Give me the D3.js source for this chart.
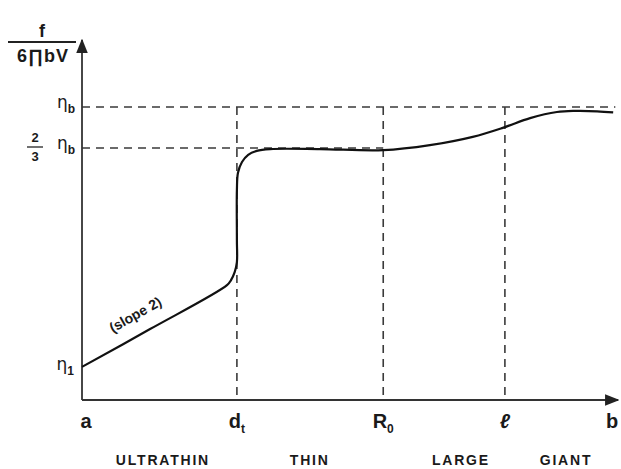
<!DOCTYPE html>
<html>
<head>
<meta charset="utf-8">
<script src="https://cdn.jsdelivr.net/npm/d3@7/dist/d3.min.js"></script>
<style>
  html, body { margin: 0; padding: 0; background: #fff; }
  svg { display: block; }
  text { font-family: "Liberation Sans", Arial, sans-serif; fill: #1a1a1a; }
</style>
</head>
<body>
<svg id="chart" width="621" height="469"></svg>
<script>
// Characteristic regimes along the horizontal axis
const xTickNames = ["a", "d", "R", "\u2113", "b"];
const xTickSubs  = ["", "t", "0", "", ""];
const xTickValues = [0, 28.9, 56.2, 78.9, 98.9];

const regionNames = ["ULTRATHIN", "THIN", "LARGE", "GIANT"];
const regionCenters = [15.1, 42.5, 70.7, 90.3];

// Reference levels on the vertical axis
const etaB = 81.4;
const twoThirdsEtaB = 70;
const eta1 = 9.2;

// Friction curve, f / (6 Pi b V) versus size
const curveX = [0, 12.7, 27.05, 27.8, 28.5, 28.9, 28.9, 28.9, 29.1, 29.85, 31.0, 32.6, 35.1, 44.4, 56.2, 64.9, 72.9, 78.5, 83.6, 88.6, 92.0, 96.1, 99.1];
const curveY = [9.2, 19.7, 31.9, 33.3, 35.6, 38.3, 44.4, 58.3, 63.1, 66.1, 68.1, 69.2, 69.7, 69.7, 69.4, 70.8, 73.1, 75.6, 78.3, 80.0, 80.3, 80.2, 79.9];

const svg = d3.select("#chart");
const x = d3.scaleLinear().domain([0, 100]).range([82, 618]);
const y = d3.scaleLinear().domain([0, 100]).range([400, 40]);

// arrow marker for axes
svg.append("defs").append("marker")
  .attr("id", "arrow").attr("viewBox", "0 0 10 10")
  .attr("refX", 9).attr("refY", 5)
  .attr("markerWidth", 8).attr("markerHeight", 8)
  .attr("orient", "auto-start-reverse")
  .append("path").attr("d", "M0,1 L10,5 L0,9 Z").attr("fill", "#222");

const dash = "8,6";
const dashColor = "#3a3a3a";

// horizontal reference lines
svg.append("line")
  .attr("x1", x(0)).attr("x2", x(99.5))
  .attr("y1", y(etaB)).attr("y2", y(etaB))
  .attr("stroke", dashColor).attr("stroke-width", 1.4).attr("stroke-dasharray", dash);
svg.append("line")
  .attr("x1", x(0)).attr("x2", x(56.2))
  .attr("y1", y(twoThirdsEtaB)).attr("y2", y(twoThirdsEtaB))
  .attr("stroke", dashColor).attr("stroke-width", 1.4).attr("stroke-dasharray", dash);

// vertical boundaries between regimes
svg.selectAll("line.vb").data(xTickValues.slice(1, 4)).enter().append("line")
  .attr("class", "vb")
  .attr("x1", d => x(d)).attr("x2", d => x(d))
  .attr("y1", y(etaB)).attr("y2", y(0))
  .attr("stroke", dashColor).attr("stroke-width", 1.6).attr("stroke-dasharray", dash);

// axes
svg.append("line")
  .attr("x1", x(0)).attr("y1", y(0)).attr("x2", x(0)).attr("y2", y(100))
  .attr("stroke", "#333").attr("stroke-width", 1.8).attr("marker-end", "url(#arrow)");
svg.append("line")
  .attr("x1", x(0)).attr("y1", y(0)).attr("x2", x(100)).attr("y2", y(0))
  .attr("stroke", "#333").attr("stroke-width", 1.8).attr("marker-end", "url(#arrow)");

// the curve
const pts = curveX.map((v, i) => [v, curveY[i]]);
const line = d3.line().x(d => x(d[0])).y(d => y(d[1])).curve(d3.curveCatmullRom.alpha(0.5));
svg.append("path").datum(pts)
  .attr("d", line).attr("fill", "none")
  .attr("stroke", "#111").attr("stroke-width", 2.2)
  .attr("stroke-linejoin", "round");

// "(slope 2)" annotation along the straight part
const sx1 = x(curveX[0]), sy1 = y(curveY[0]), sx2 = x(curveX[2]), sy2 = y(curveY[2]);
const ang = Math.atan2(sy2 - sy1, sx2 - sx1) * 180 / Math.PI;
svg.append("text")
  .attr("transform", `translate(${x(10.4)},${y(17) - 20}) rotate(${ang})`)
  .attr("text-anchor", "middle")
  .attr("font-size", 14).attr("font-weight", "bold")
  .text("(slope 2)");

// x tick labels
const xl = svg.selectAll("text.xt").data(xTickNames).enter().append("text")
  .attr("class", "xt")
  .attr("x", (d, i) => x(xTickValues[i]) + (i === 0 ? 4 : 0))
  .attr("y", 428)
  .attr("text-anchor", "middle")
  .attr("font-size", 20).attr("font-weight", "bold")
  .style("font-style", d => d === "\u2113" ? "italic" : "normal");
xl.append("tspan").text(d => d);
xl.append("tspan").attr("dy", 5).attr("font-size", 12).text((d, i) => xTickSubs[i]);

// region names
svg.selectAll("text.rg").data(regionNames).enter().append("text")
  .attr("class", "rg")
  .attr("x", (d, i) => x(regionCenters[i]))
  .attr("y", 465)
  .attr("text-anchor", "middle")
  .attr("font-size", 14).attr("font-weight", "bold")
  .attr("letter-spacing", 1.8)
  .text(d => d);

// y axis title: f / (6 Pi b V)
svg.append("text").attr("x", 42).attr("y", 37).attr("text-anchor", "middle")
  .attr("font-size", 18).attr("font-weight", "bold").text("f");
svg.append("line").attr("x1", 8).attr("x2", 76).attr("y1", 42).attr("y2", 42)
  .attr("stroke", "#222").attr("stroke-width", 1.8);
svg.append("text").attr("x", 43).attr("y", 62).attr("text-anchor", "middle")
  .attr("font-size", 18).attr("font-weight", "bold").attr("letter-spacing", 1)
  .text("6\u220FbV");

// y level labels
function etaLabel(xp, yp, sub) {
  const t = svg.append("text").attr("x", xp).attr("y", yp)
    .attr("text-anchor", "end").attr("font-size", 17)
    .style("font-family", "'DejaVu Sans', sans-serif");
  t.append("tspan").text("\u03B7");
  t.append("tspan").attr("dy", 5).attr("font-size", 12)
    .style("font-family", "'Liberation Sans', Arial, sans-serif")
    .attr("font-weight", "bold").text(sub);
}
etaLabel(75, y(etaB) + 1, "b");
etaLabel(75, y(twoThirdsEtaB) + 1, "b");
etaLabel(74, y(eta1) + 3, "1");

// 2/3 fraction before eta_b
svg.append("text").attr("x", 35).attr("y", y(twoThirdsEtaB) - 6).attr("text-anchor", "middle")
  .attr("font-size", 13).attr("font-weight", "bold").text("2");
svg.append("line").attr("x1", 27).attr("x2", 43)
  .attr("y1", y(twoThirdsEtaB) - 1).attr("y2", y(twoThirdsEtaB) - 1)
  .attr("stroke", "#222").attr("stroke-width", 1.3);
svg.append("text").attr("x", 35).attr("y", y(twoThirdsEtaB) + 13).attr("text-anchor", "middle")
  .attr("font-size", 13).attr("font-weight", "bold").text("3");
</script>
</body>
</html>
